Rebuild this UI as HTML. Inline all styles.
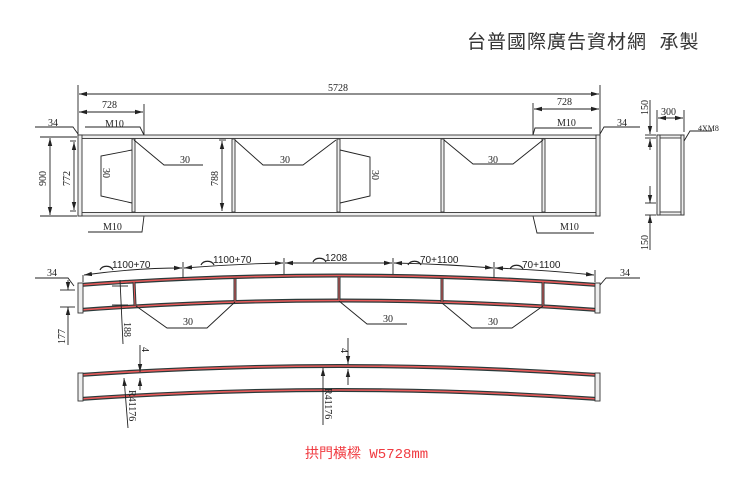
<!DOCTYPE html>
<html><head><meta charset="utf-8"><style>
html,body{margin:0;padding:0;background:#fff;}
svg{display:block;}
text{font-family:"Liberation Serif","Noto Serif CJK SC",serif;font-size:10px;fill:#222;}
.t{font-family:"Liberation Sans","Noto Sans CJK TC",sans-serif;}
</style></head><body>
<svg width="750" height="494" viewBox="0 0 750 494" xmlns="http://www.w3.org/2000/svg">
<defs>
<marker id="a" markerWidth="8" markerHeight="6" refX="8" refY="3" orient="auto" markerUnits="userSpaceOnUse"><path d="M0,0.8 L8,3 L0,5.2z" fill="#222"/></marker>
<marker id="b" markerWidth="8" markerHeight="6" refX="0" refY="3" orient="auto" markerUnits="userSpaceOnUse"><path d="M8,0.8 L0,3 L8,5.2z" fill="#222"/></marker>
</defs>
<text x="467" y="48" class="t" style="font-size:19px;fill:#333;letter-spacing:1px;white-space:pre" xml:space="preserve">台普國際廣告資材網  承製</text>

<g stroke="#222" stroke-width="0.9" fill="none">
<line x1="78" y1="85" x2="78" y2="137"/><line x1="600" y1="85" x2="600" y2="137"/>
<line x1="79" y1="94" x2="599" y2="94" marker-start="url(#b)" marker-end="url(#a)"/>
<line x1="144" y1="104" x2="144" y2="135"/>
<line x1="79" y1="112" x2="143" y2="112" marker-start="url(#b)" marker-end="url(#a)"/>
<line x1="533" y1="103" x2="533" y2="135"/>
<line x1="534" y1="109" x2="599" y2="109" marker-start="url(#b)" marker-end="url(#a)"/>
<polyline points="85,127 140,127 144,135"/>
<polyline points="533,135 535,128 592,128"/>
<polyline points="35,127 73,127 78,134"/>
<polyline points="600,134 604,127 640,127"/>
<polyline points="144,216 142,232 88,232"/>
<polyline points="533,216 537,233 594,233"/>
<line x1="40" y1="137" x2="77" y2="137"/><line x1="40" y1="216" x2="77" y2="216"/>
<line x1="50" y1="138" x2="50" y2="215" marker-start="url(#b)" marker-end="url(#a)"/>
<line x1="70" y1="141" x2="76" y2="141"/><line x1="70" y1="211" x2="76" y2="211"/>
<line x1="74" y1="142" x2="74" y2="210" marker-start="url(#b)" marker-end="url(#a)"/>
<line x1="219" y1="140" x2="226" y2="140"/>
<line x1="222" y1="141" x2="222" y2="211" marker-start="url(#b)" marker-end="url(#a)"/>
</g>
<g stroke="#333" fill="#eee" stroke-width="0.9">
<rect x="78" y="135" width="522" height="3.5"/>
<rect x="78" y="212.5" width="522" height="3.5"/>
<rect x="78" y="135" width="4" height="81"/>
<rect x="596" y="135" width="4" height="81"/>
<rect x="132" y="139" width="3" height="73"/>
<rect x="232" y="139" width="3" height="73"/>
<rect x="337" y="139" width="3" height="73"/>
<rect x="441" y="139" width="3" height="73"/>
<rect x="542" y="139" width="3" height="73"/>
</g>
<g stroke="#222" stroke-width="0.9" fill="none">
<polyline points="132,150 101,156 101,196 132,203"/>
<polyline points="340,150 370,157 370,196 340,203"/>
<polyline points="134,140 164,165 203,165"/>
<polyline points="235,140 263,165 303,165 336,140"/>
<polyline points="444,140 473,164 513,164 543,140"/>
</g>
<text x="105" y="127">M10</text><text x="557" y="126">M10</text>
<text x="103" y="230">M10</text><text x="560" y="230">M10</text>
<text x="102" y="108">728</text><text x="557" y="105">728</text>
<text x="328" y="91">5728</text>
<text x="48" y="126">34</text><text x="617" y="126">34</text>
<text x="180" y="163">30</text><text x="280" y="163">30</text><text x="488" y="163">30</text>
<text transform="translate(103,168) rotate(90)">30</text>
<text transform="translate(372,170) rotate(90)">30</text>
<text transform="translate(46,186) rotate(-90)">900</text>
<text transform="translate(70,186) rotate(-90)">772</text>
<text transform="translate(218,186) rotate(-90)">788</text>

<g stroke="#333" fill="#eee" stroke-width="0.9">
<rect x="657" y="135" width="27" height="3"/><rect x="657" y="212" width="27" height="3"/>
<rect x="657" y="135" width="3" height="80"/><rect x="681" y="135" width="3" height="80"/>
</g>
<g stroke="#222" stroke-width="0.9" fill="none">
<line x1="657" y1="110" x2="657" y2="132"/><line x1="684" y1="110" x2="684" y2="132"/>
<line x1="658" y1="118" x2="683" y2="118" marker-start="url(#b)" marker-end="url(#a)"/>
<line x1="650" y1="100" x2="650" y2="134" marker-end="url(#a)"/>
<line x1="650" y1="150" x2="650" y2="139" marker-end="url(#a)"/>
<line x1="645" y1="135" x2="656" y2="135"/><line x1="645" y1="138" x2="656" y2="138"/>
<line x1="650" y1="186" x2="650" y2="203" marker-end="url(#a)"/>
<line x1="650" y1="250" x2="650" y2="215" marker-end="url(#a)"/>
<line x1="645" y1="203" x2="656" y2="203"/><line x1="645" y1="215" x2="656" y2="215"/>
<polyline points="684,141 690,131 712,131"/>
</g>
<text x="661" y="115">300</text>
<text x="698" y="131" style="font-size:8px">4XM8</text>
<text transform="translate(648,115) rotate(-90)">150</text>
<text transform="translate(648,250) rotate(-90)">150</text>

<g fill="none" stroke-linecap="butt">
<path d="M80,285 Q339,266 598,285" stroke="#2a3a3a" stroke-width="4"/>
<path d="M80,285 Q339,266 598,285" stroke="#e85a5a" stroke-width="1.6"/>
<path d="M80,310 Q339,291 598,310" stroke="#2a3a3a" stroke-width="4"/>
<path d="M80,310 Q339,291 598,310" stroke="#e85a5a" stroke-width="1.6"/>
<path d="M80,375 Q339,357 598,375" stroke="#2a3a3a" stroke-width="4"/>
<path d="M80,375 Q339,357 598,375" stroke="#e85a5a" stroke-width="1.6"/>
<path d="M80,399 Q339,381 598,399" stroke="#2a3a3a" stroke-width="4"/>
<path d="M80,399 Q339,381 598,399" stroke="#e85a5a" stroke-width="1.6"/>
</g>
<g stroke="#333" stroke-width="0.9" fill="#eee">
<rect x="78" y="283" width="5" height="30"/><rect x="595" y="283" width="5" height="30"/>
<rect x="78" y="373" width="5" height="28"/><rect x="595" y="373" width="5" height="28"/>
</g>
<g stroke="#2a3a3a" stroke-width="3">
<line x1="134" y1="282" x2="135" y2="305"/><line x1="235" y1="279" x2="235" y2="301"/>
<line x1="339" y1="277" x2="339" y2="300"/><line x1="442" y1="279" x2="442" y2="302"/>
<line x1="543" y1="282" x2="543" y2="305"/>
</g>
<g stroke="#e85a5a" stroke-width="1">
<line x1="134" y1="282" x2="135" y2="305"/><line x1="235" y1="279" x2="235" y2="301"/>
<line x1="339" y1="277" x2="339" y2="300"/><line x1="442" y1="279" x2="442" y2="302"/>
<line x1="543" y1="282" x2="543" y2="305"/>
</g>
<g stroke="#222" stroke-width="0.9" fill="none">
<polyline points="136,306 167,328 207,328 235,302"/>
<polyline points="339,301 367,324 407,324"/>
<polyline points="442,303 472,328 512,328 543,306"/>
<polyline points="35,278 68,278 74,286"/>
<polyline points="600,285 606,278 640,278"/>
<line x1="83" y1="275" x2="83" y2="282"/><line x1="183" y1="262" x2="183" y2="278"/>
<line x1="284" y1="258" x2="284" y2="274"/><line x1="393" y1="258" x2="393" y2="274"/>
<line x1="494" y1="262" x2="494" y2="278"/><line x1="595" y1="270" x2="595" y2="282"/>
<path d="M84,275 Q134,268 182,268" marker-start="url(#b)" marker-end="url(#a)"/>
<path d="M184,268 Q234,264 283,263" marker-start="url(#b)" marker-end="url(#a)"/>
<path d="M285,263 L392,263" marker-start="url(#b)" marker-end="url(#a)"/>
<path d="M394,263 Q444,264 493,268" marker-start="url(#b)" marker-end="url(#a)"/>
<path d="M495,268 Q545,270 594,275" marker-start="url(#b)" marker-end="url(#a)"/>
<line x1="60" y1="290" x2="75" y2="290"/><line x1="60" y1="307" x2="75" y2="307"/>
<line x1="68" y1="280" x2="68" y2="290" marker-end="url(#a)"/>
<line x1="68" y1="345" x2="68" y2="307" marker-end="url(#a)"/>
<line x1="112" y1="286" x2="128" y2="286"/><line x1="112" y1="305" x2="128" y2="305"/>
<line x1="123" y1="344" x2="120" y2="280"/>
<line x1="140" y1="345" x2="140" y2="372" marker-end="url(#a)"/>
<line x1="140" y1="390" x2="140" y2="378" marker-end="url(#a)"/>
<line x1="348" y1="338" x2="348" y2="364" marker-end="url(#a)"/>
<line x1="348" y1="385" x2="348" y2="369" marker-end="url(#a)"/>
<line x1="128" y1="428" x2="124" y2="378" marker-end="url(#a)"/>
<line x1="323" y1="425" x2="323" y2="368" marker-end="url(#a)"/>
</g>
<text x="183" y="325">30</text><text x="383" y="322">30</text><text x="488" y="325">30</text>
<text x="112" y="268" class="t">1100+70</text><text x="213" y="263" class="t">1100+70</text>
<text x="325" y="261" class="t">1208</text><text x="420" y="263" class="t">70+1100</text>
<text x="522" y="268" class="t">70+1100</text>
<g stroke="#222" fill="none" stroke-width="1.2">
<path d="M100,270 a7,6 0 0 1 13,0"/><path d="M201,265 a7,6 0 0 1 13,0"/>
<path d="M313,262 a7,6 0 0 1 13,0"/><path d="M408,265 a7,6 0 0 1 13,0"/>
<path d="M510,269 a7,6 0 0 1 13,0"/>
</g>
<text x="47" y="276">34</text><text x="620" y="276">34</text>
<text transform="translate(65,344) rotate(-90)">177</text>
<text transform="translate(124,322) rotate(90)">188</text>
<text transform="translate(142,347) rotate(90)">4</text>
<text transform="translate(341,348) rotate(90)">4</text>
<text transform="translate(129,390) rotate(90)">R41176</text>
<text transform="translate(325,388) rotate(90)">R41176</text>
<text x="305" y="458" style="font-family:'Liberation Mono','Noto Sans CJK TC',monospace;font-size:14px;fill:#f03a40">拱門橫樑 W5728mm</text>
</svg>
</body></html>
